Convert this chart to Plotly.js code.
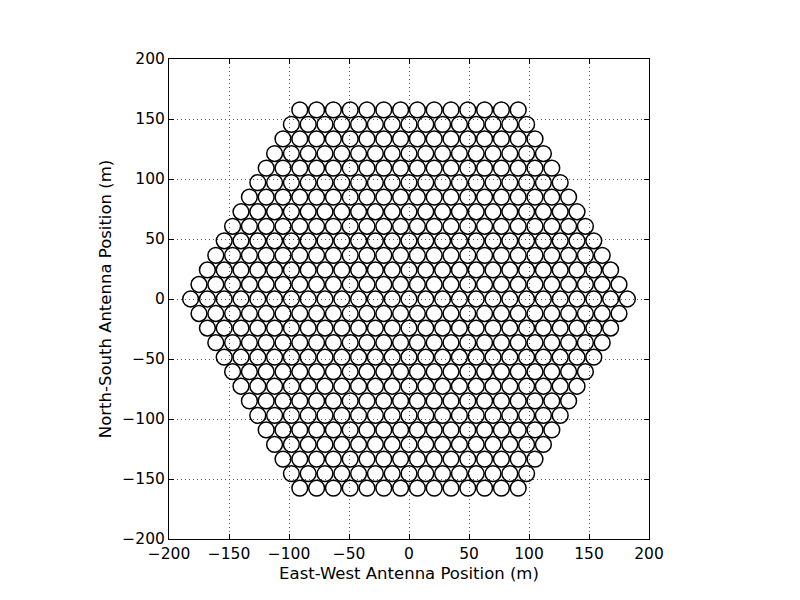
<!DOCTYPE html>
<html>
<head>
<meta charset="utf-8">
<script src="https://cdn.plot.ly/plotly-3.0.1.min.js"></script>
<style>
  html, body { margin: 0; padding: 0; background: white; }
  #grafico { width: 800px; height: 600px; }
</style>
</head>
<body>
<div id="grafico"></div>
<script>
// Hexagonal antenna layout: one row per line, 14 m spacing between dishes

const rowY = [157.6, 145.5, 133.4, 121.2, 109.1, 97.0, 84.9, 72.7, 60.6, 48.5, 36.4, 24.2, 12.1,
  0,
  -12.1, -24.2, -36.4, -48.5, -60.6, -72.7, -84.9, -97.0, -109.1, -121.2, -133.4, -145.5, -157.6];
const rowXStart = [-91, -98, -105, -112, -119, -126, -133, -140, -147, -154, -161, -168, -175,
  -182,
  -175, -168, -161, -154, -147, -140, -133, -126, -119, -112, -105, -98, -91];
const rowCount = [14, 15, 16, 17, 18, 19, 20, 21, 22, 23, 24, 25, 26,
  27,
  26, 25, 24, 23, 22, 21, 20, 19, 18, 17, 16, 15, 14];
const spacing = 14; // m
const tickVals = [-200, -150, -100, -50, 0, 50, 100, 150, 200];

const xs = [];
const ys = [];
rowY.forEach((y, r) => {
  for (let i = 0; i < rowCount[r]; i++) {
    xs.push(rowXStart[r] + i * spacing);
    ys.push(y);
  }
});

const fonteTick = { family: "DejaVu Sans", size: 15.5, color: "black" };
const fonteTitulo = { family: "DejaVu Sans", size: 16.5, color: "black" };

const eixo = {
  range: [-200, 200],
  tickvals: tickVals,
  ticks: "inside",
  ticklen: 5,
  tickwidth: 1,
  tickcolor: "black",
  showline: true,
  linecolor: "black",
  linewidth: 1,
  mirror: "ticks",
  showgrid: true,
  gridcolor: "#333",
  gridwidth: 0.8,
  griddash: "1px,3px",
  zeroline: false,
  tickfont: fonteTick
};

const data = [{
  x: xs,
  y: ys,
  type: "scatter",
  mode: "markers",
  marker: {
    size: 15.8,
    color: "rgba(0,0,0,0)",
    line: { color: "black", width: 1.5 }
  },
  hoverinfo: "x+y"
}];

const layout = {
  width: 800,
  height: 600,
  paper_bgcolor: "white",
  plot_bgcolor: "white",
  showlegend: false,
  margin: { l: 169, r: 151, t: 59, b: 61 },
  xaxis: Object.assign({}, eixo, {
    title: { text: "East-West Antenna Position (m)", font: fonteTitulo, standoff: 5 }
  }),
  yaxis: Object.assign({}, eixo, {
    title: { text: "North-South Antenna Position (m)", font: fonteTitulo, standoff: 6 }
  })
};

Plotly.newPlot("grafico", data, layout, { staticPlot: true });
</script>
</body>
</html>
